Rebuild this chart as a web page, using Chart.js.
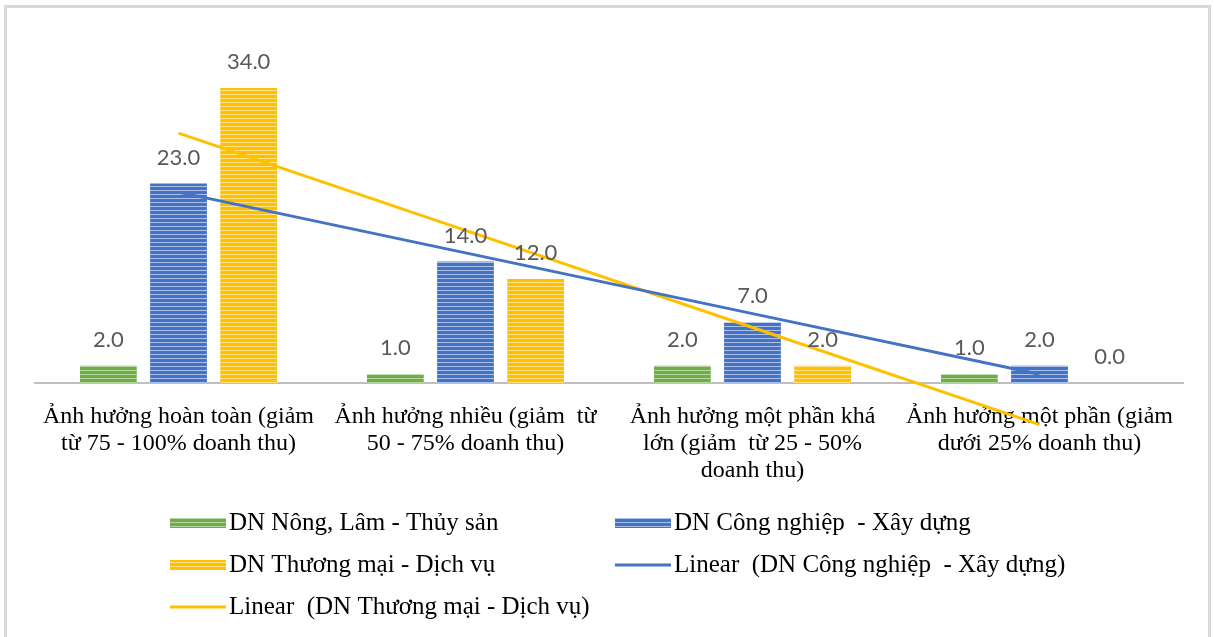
<!DOCTYPE html>
<html>
<head>
<meta charset="utf-8">
<script src="https://cdn.jsdelivr.net/npm/chart.js@4.4.0/dist/chart.umd.min.js"></script>
<style>
    html, body { margin: 0; padding: 0; background: #fff; overflow: hidden; }
    #frame { position: absolute; left: 4px; top: 5px; width: 1207px; height: 660px; border: 3px solid #d9d9d9; box-sizing: border-box; }
    #wrap { position: absolute; left: 0; top: 0; width: 1214px; height: 637px; }
</style>
</head>
<body>
<div id="frame"></div>
<div id="wrap"><canvas id="chart"></canvas></div>
<script>
const categories = [
    ["Ảnh hưởng hoàn toàn (giảm", "từ 75 - 100% doanh thu)"],
    ["Ảnh hưởng nhiều (giảm  từ", "50 - 75% doanh thu)"],
    ["Ảnh hưởng một phần khá", "lớn (giảm  từ 25 - 50%", "doanh thu)"],
    ["Ảnh hưởng một phần (giảm", "dưới 25% doanh thu)"]
];
const seriesNames = [
    "DN Nông, Lâm - Thủy sản",
    "DN Công nghiệp  - Xây dựng",
    "DN Thương mại - Dịch vụ",
    "Linear  (DN Công nghiệp  - Xây dựng)",
    "Linear  (DN Thương mại - Dịch vụ)"
];
const nongLamValues = [2, 1, 2, 1];
const congNghiepValues = [23, 14, 7, 2];
const thuongMaiValues = [34, 12, 2, 0];
const congNghiepTrend = [22, 15, 8, 1];
const thuongMaiTrend = [28.8, 17.6, 6.4, -4.8];

document.addEventListener("DOMContentLoaded", function () {
    const ctx = document.getElementById("chart").getContext("2d");

    function stripes(color, light) {
        const c = document.createElement("canvas");
        c.width = 4;
        c.height = 4;
        const g = c.getContext("2d");
        g.fillStyle = color;
        g.fillRect(0, 0, 4, 4);
        g.fillStyle = light;
        g.fillRect(0, 2, 4, 1);
        return ctx.createPattern(c, "repeat");
    }

    const green = stripes("#70ad47", "#b5d6a0");
    const blue = stripes("#4472c4", "#a9c0e8");
    const yellow = stripes("#ffc000", "#ffe28a");

    const barLabels = {
        id: "barLabels",
        afterDatasetsDraw(chart) {
            const c = chart.ctx;
            c.save();
            c.font = "22px Lato";
            c.fillStyle = "#595959";
            c.textAlign = "center";
            c.textBaseline = "middle";
            chart.data.datasets.forEach((ds, i) => {
                if (ds.type !== "bar") return;
                chart.getDatasetMeta(i).data.forEach((bar, j) => {
                    c.fillText(ds.data[j].toFixed(1), bar.x, bar.y - 26);
                });
            });
            c.restore();
        }
    };

    // two-column legend like the Excel one
    const legendSpots = [[170, 523], [615, 523], [170, 565], [615, 565], [170, 607]];
    const sideLegend = {
        id: "sideLegend",
        afterDraw(chart) {
            const c = chart.ctx;
            c.save();
            c.font = "25px 'Liberation Serif'";
            c.textBaseline = "middle";
            chart.data.datasets.forEach((ds, i) => {
                const [x, y] = legendSpots[i];
                if (ds.type === "bar") {
                    c.fillStyle = ds.backgroundColor;
                    c.fillRect(x, y - 5, 56, 10);
                } else {
                    c.strokeStyle = ds.borderColor;
                    c.lineWidth = 3;
                    c.beginPath();
                    c.moveTo(x, y);
                    c.lineTo(x + 56, y);
                    c.stroke();
                }
                c.fillStyle = "#000";
                c.fillText(ds.label, x + 59, y);
            });
            c.restore();
        }
    };

    new Chart(ctx, {
        data: {
            labels: categories,
            datasets: [
                { type: "bar", label: seriesNames[0], data: nongLamValues, backgroundColor: green, order: 1 },
                { type: "bar", label: seriesNames[1], data: congNghiepValues, backgroundColor: blue, order: 1 },
                { type: "bar", label: seriesNames[2], data: thuongMaiValues, backgroundColor: yellow, order: 1 },
                { type: "line", label: seriesNames[3], data: congNghiepTrend, borderColor: "#4472c4", borderWidth: 3, pointRadius: 0, clip: false, order: 0 },
                { type: "line", label: seriesNames[4], data: thuongMaiTrend, borderColor: "#ffc000", borderWidth: 3, pointRadius: 0, clip: false, order: 0 }
            ]
        },
        options: {
            responsive: true,
            maintainAspectRatio: false,
            animation: false,
            layout: { padding: { top: 36, left: 35, right: 31, bottom: 0 } },
            datasets: {
                bar: { categoryPercentage: 0.733, barPercentage: 0.81 }
            },
            scales: {
                x: {
                    grid: { display: false },
                    border: { display: true, color: "#bfbfbf", width: 2 },
                    ticks: {
                        color: "#000",
                        font: { family: "'Liberation Serif'", size: 24, lineHeight: 1.125 },
                        maxRotation: 0,
                        autoSkip: false,
                        padding: 12
                    },
                    afterFit: function (scale) {
                        scale.height = 254;
                    }
                },
                y: {
                    display: false,
                    min: 0,
                    max: 40
                }
            },
            plugins: {
                legend: { display: false },
                tooltip: { enabled: false }
            }
        },
        plugins: [barLabels, sideLegend]
    });
});
</script>
</body>
</html>
